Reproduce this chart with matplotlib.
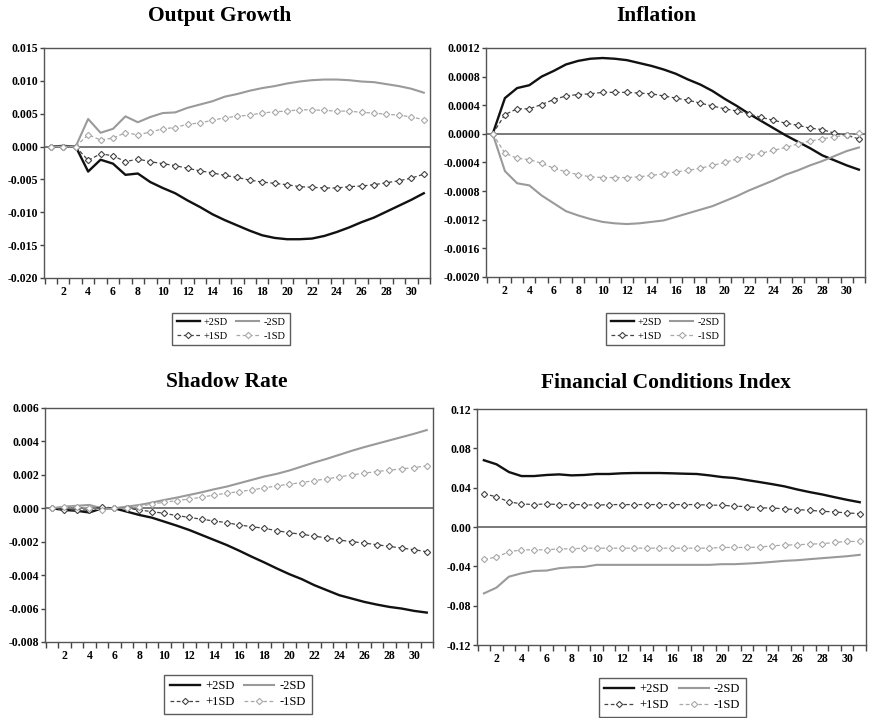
import numpy as np
import matplotlib
matplotlib.use("Agg")
import matplotlib.pyplot as plt
from matplotlib.ticker import FixedLocator, FormatStrFormatter

plt.rcParams["font.family"] = ["Liberation Serif", "DejaVu Serif"]

periods = np.arange(1, 32)
series_names = ["+2SD", "-2SD", "+1SD", "-1SD"]

# Output Growth
og_p2 = [0, 0.0001, 0, -0.0038, -0.0020, -0.0026, -0.0043, -0.0041, -0.0054, -0.0063,
         -0.0071, -0.0082, -0.0092, -0.0103, -0.0112, -0.0120, -0.0128, -0.0135, -0.0139, -0.0141,
         -0.0141, -0.0140, -0.0136, -0.0130, -0.0123, -0.0115, -0.0108, -0.0099, -0.0090, -0.0081, -0.0071]
og_m2 = [0, 0, 0, 0.0042, 0.0021, 0.0027, 0.0046, 0.0037, 0.0045, 0.0051,
         0.0052, 0.0059, 0.0064, 0.0069, 0.0076, 0.0080, 0.0085, 0.0089, 0.0092, 0.0096,
         0.0099, 0.0101, 0.0102, 0.0102, 0.0101, 0.0099, 0.0098, 0.0095, 0.0092, 0.0088, 0.0082]
og_p1 = [0, 0, 0, -0.0021, -0.0011, -0.0014, -0.0023, -0.0019, -0.0023, -0.0026,
         -0.0029, -0.0033, -0.0037, -0.0040, -0.0044, -0.0047, -0.0051, -0.0054, -0.0056, -0.0058,
         -0.0061, -0.0062, -0.0063, -0.0063, -0.0061, -0.0060, -0.0058, -0.0055, -0.0052, -0.0048, -0.0042]
og_m1 = [0, 0, 0, 0.0018, 0.0010, 0.0013, 0.0021, 0.0018, 0.0022, 0.0027,
         0.0029, 0.0034, 0.0036, 0.0040, 0.0044, 0.0046, 0.0048, 0.0051, 0.0053, 0.0054,
         0.0056, 0.0056, 0.0055, 0.0054, 0.0054, 0.0052, 0.0051, 0.0049, 0.0048, 0.0045, 0.0041]

# Inflation
inf_p2 = [0, 0.00050, 0.00064, 0.00068, 0.00080, 0.00088, 0.00097, 0.00102, 0.00105, 0.00106,
          0.00105, 0.00103, 0.00099, 0.00095, 0.00090, 0.00084, 0.00076, 0.00069, 0.00060, 0.00049,
          0.00039, 0.00028, 0.00018, 0.00008, -0.00002, -0.00011, -0.00020, -0.00030, -0.00037, -0.00044, -0.00050]
inf_m2 = [0, -0.00052, -0.00069, -0.00072, -0.00086, -0.00097, -0.00108, -0.00114, -0.00119, -0.00123,
          -0.00125, -0.00126, -0.00125, -0.00123, -0.00121, -0.00116, -0.00111, -0.00106, -0.00101, -0.00094,
          -0.00087, -0.00079, -0.00072, -0.00065, -0.00057, -0.00051, -0.00044, -0.00038, -0.00031, -0.00024, -0.00019]
inf_p1 = [0, 0.00027, 0.00035, 0.00035, 0.00041, 0.00048, 0.00053, 0.00055, 0.00056, 0.00058,
          0.00058, 0.00058, 0.00057, 0.00056, 0.00053, 0.00050, 0.00047, 0.00043, 0.00039, 0.00035,
          0.00032, 0.00028, 0.00023, 0.00019, 0.00015, 0.00012, 0.00008, 0.00006, 0.00001, -0.00002, -0.00007]
inf_m1 = [0, -0.00027, -0.00034, -0.00036, -0.00041, -0.00048, -0.00053, -0.00057, -0.00060, -0.00061,
          -0.00061, -0.00061, -0.00060, -0.00058, -0.00056, -0.00053, -0.00051, -0.00048, -0.00044, -0.00040,
          -0.00035, -0.00031, -0.00027, -0.00023, -0.00019, -0.00014, -0.00010, -0.00007, -0.00004, -0.00002, 0.00001]

# Shadow Rate
sr_p2 = [0, -0.0001, -0.00015, -0.00025, 0.0, 0.0, -0.0002, -0.0004, -0.00056, -0.0008,
         -0.00104, -0.0013, -0.0016, -0.0019, -0.0022, -0.00254, -0.0029, -0.00324, -0.0036, -0.00394,
         -0.00424, -0.0046, -0.0049, -0.0052, -0.0054, -0.0056, -0.00576, -0.0059, -0.0060, -0.00614, -0.00624]
sr_m2 = [0, 0.0001, 0.00015, 0.0002, 0.0, 0.0, 0.0001, 0.0002, 0.00034, 0.0005,
         0.00064, 0.0008, 0.00096, 0.00114, 0.0013, 0.0015, 0.0017, 0.0019, 0.00206, 0.00226,
         0.0025, 0.00274, 0.00296, 0.0032, 0.00344, 0.00366, 0.00386, 0.00406, 0.00426, 0.00446, 0.00468]
sr_p1 = [0, -0.0001, -0.0001, -0.0001, 0.0001, 0.0, 0.0, -0.0001, -0.0002, -0.0003,
         -0.00044, -0.00054, -0.00066, -0.00076, -0.00086, -0.0010, -0.0011, -0.0012, -0.00134, -0.00146,
         -0.00156, -0.00166, -0.00178, -0.0019, -0.0020, -0.00208, -0.00218, -0.00228, -0.00238, -0.00248, -0.0026]
sr_m1 = [0, 0.0001, 0.0001, 0.0, -0.0001, 0.0, 0.0, 0.0001, 0.00026, 0.00036,
         0.00046, 0.00056, 0.00066, 0.0008, 0.0009, 0.0010, 0.0011, 0.00122, 0.00134, 0.00144,
         0.00154, 0.00166, 0.00176, 0.00188, 0.0020, 0.0021, 0.0022, 0.00228, 0.00236, 0.00244, 0.00254]

# Financial Conditions Index
fci_p2 = [0.0679, 0.0638, 0.0559, 0.0518, 0.0518, 0.0529, 0.0535, 0.0525, 0.0529, 0.0539,
          0.0539, 0.0546, 0.0549, 0.0549, 0.0549, 0.0546, 0.0542, 0.0539, 0.0525, 0.0508,
          0.0498, 0.0477, 0.0457, 0.0436, 0.0413, 0.0382, 0.0355, 0.0331, 0.0303, 0.0276, 0.0252]
fci_m2 = [-0.0675, -0.0617, -0.0505, -0.0471, -0.0447, -0.0443, -0.0419, -0.0409, -0.0406, -0.0385,
          -0.0385, -0.0385, -0.0385, -0.0385, -0.0385, -0.0385, -0.0385, -0.0385, -0.0385, -0.0378,
          -0.0378, -0.0372, -0.0365, -0.0355, -0.0344, -0.0338, -0.0327, -0.0317, -0.0307, -0.0297, -0.0283]
fci_p1 = [0.0338, 0.0307, 0.0256, 0.0235, 0.0228, 0.0235, 0.0228, 0.0228, 0.0228, 0.0222,
          0.0228, 0.0228, 0.0228, 0.0228, 0.0228, 0.0228, 0.0228, 0.0228, 0.0222, 0.0222,
          0.0211, 0.0208, 0.0194, 0.0194, 0.0184, 0.0177, 0.0170, 0.0160, 0.0153, 0.0143, 0.0136]
fci_m1 = [-0.0327, -0.0307, -0.0252, -0.0232, -0.0232, -0.0232, -0.0222, -0.0222, -0.0215, -0.0215,
          -0.0215, -0.0215, -0.0215, -0.0215, -0.0215, -0.0215, -0.0215, -0.0215, -0.0215, -0.0208,
          -0.0208, -0.0208, -0.0205, -0.0191, -0.0184, -0.0181, -0.0174, -0.0170, -0.0157, -0.0147, -0.0147]

titles = ["Output Growth", "Inflation", "Shadow Rate", "Financial Conditions Index"]
panel_data = [
    [og_p2, og_m2, og_p1, og_m1],
    [inf_p2, inf_m2, inf_p1, inf_m1],
    [sr_p2, sr_m2, sr_p1, sr_m1],
    [fci_p2, fci_m2, fci_p1, fci_m1],
]
y_ticks = [
    np.arange(-0.020, 0.0151, 0.005),
    np.arange(-0.0020, 0.00121, 0.0004),
    np.arange(-0.008, 0.0061, 0.002),
    np.arange(-0.12, 0.121, 0.04),
]
y_formats = ["%.3f", "%.4f", "%.3f", "%.2f"]

# layout in pixels: (left, top, right, bottom) of plot box
W, H = 869, 718
boxes = [(44, 48, 430, 278), (486, 48, 865, 277), (45, 408, 433, 642), (477, 409, 866, 645)]
title_pos = [(220, 16), (656, 16), (227, 382), (666, 383)]
legend_pos = [(231, 329), (665, 329), (238, 694), (672, 697)]
legend_fs = [7.5, 7.5, 9, 9]
legend_hl = [2.2, 2.2, 2.4, 2.4]
legend_sp = [0.45, 0.45, 0.3, 0.3]

styles = [
    dict(color="#111111", lw=1.7, ls="-"),
    dict(color="#9a9a9a", lw=1.5, ls="-"),
    dict(color="#444444", lw=0.9, ls=(0, (3, 2)), marker="D", ms=3.2, mfc="white", mew=0.8),
    dict(color="#a8a8a8", lw=0.9, ls=(0, (3, 2)), marker="D", ms=3.2, mfc="white", mew=0.8),
]

fig = plt.figure(figsize=(W / 100, H / 100), dpi=100)

for i in range(4):
    l, t, r, b = boxes[i]
    ax = fig.add_axes([l / W, 1 - b / H, (r - l) / W, (b - t) / H])
    handles = []
    for vals, name, st in zip(panel_data[i], series_names, styles):
        (h,) = ax.plot(periods, vals, label=name, **st)
        handles.append(h)
    ax.axhline(0, color="#555555", lw=1.1, zorder=1)

    ax.set_xlim(0.45, 31.5)
    ax.set_ylim(y_ticks[i][0], y_ticks[i][-1])
    ax.set_yticks(y_ticks[i])
    ax.yaxis.set_major_formatter(FormatStrFormatter(y_formats[i]))
    ax.set_xticks(np.arange(2, 31, 2))
    ax.xaxis.set_minor_locator(FixedLocator(np.arange(0.5, 32, 1.0)))
    ax.tick_params(axis="x", which="major", length=0, pad=6, labelsize=8.5)
    ax.tick_params(axis="x", which="minor", length=4, width=1, color="#444444", direction="out")
    ax.tick_params(axis="y", length=3, width=1, color="#444444", direction="out", pad=1, labelsize=8.5)
    for lab in ax.get_xticklabels() + ax.get_yticklabels():
        lab.set_fontweight("bold")
    for sp in ax.spines.values():
        sp.set_color("#555555")
        sp.set_linewidth(1.0)

    tx, ty = title_pos[i]
    fig.text(tx / W, 1 - ty / H, titles[i], ha="center", va="center",
             fontsize=15.5, fontweight="bold")

    lx, ly = legend_pos[i]
    leg = fig.legend(handles=[handles[0], handles[2], handles[1], handles[3]],
                     labels=["+2SD", "+1SD", "-2SD", "-1SD"],
                     ncol=2, loc="center", bbox_to_anchor=(lx / W, 1 - ly / H),
                     fontsize=legend_fs[i], frameon=True, fancybox=False,
                     handlelength=legend_hl[i], handletextpad=0.4, columnspacing=0.8,
                     labelspacing=legend_sp[i], borderpad=0.45, numpoints=1)
    leg.get_frame().set_edgecolor("#333333")
    leg.get_frame().set_linewidth(1.0)

fig.savefig("out.png", dpi=100)
